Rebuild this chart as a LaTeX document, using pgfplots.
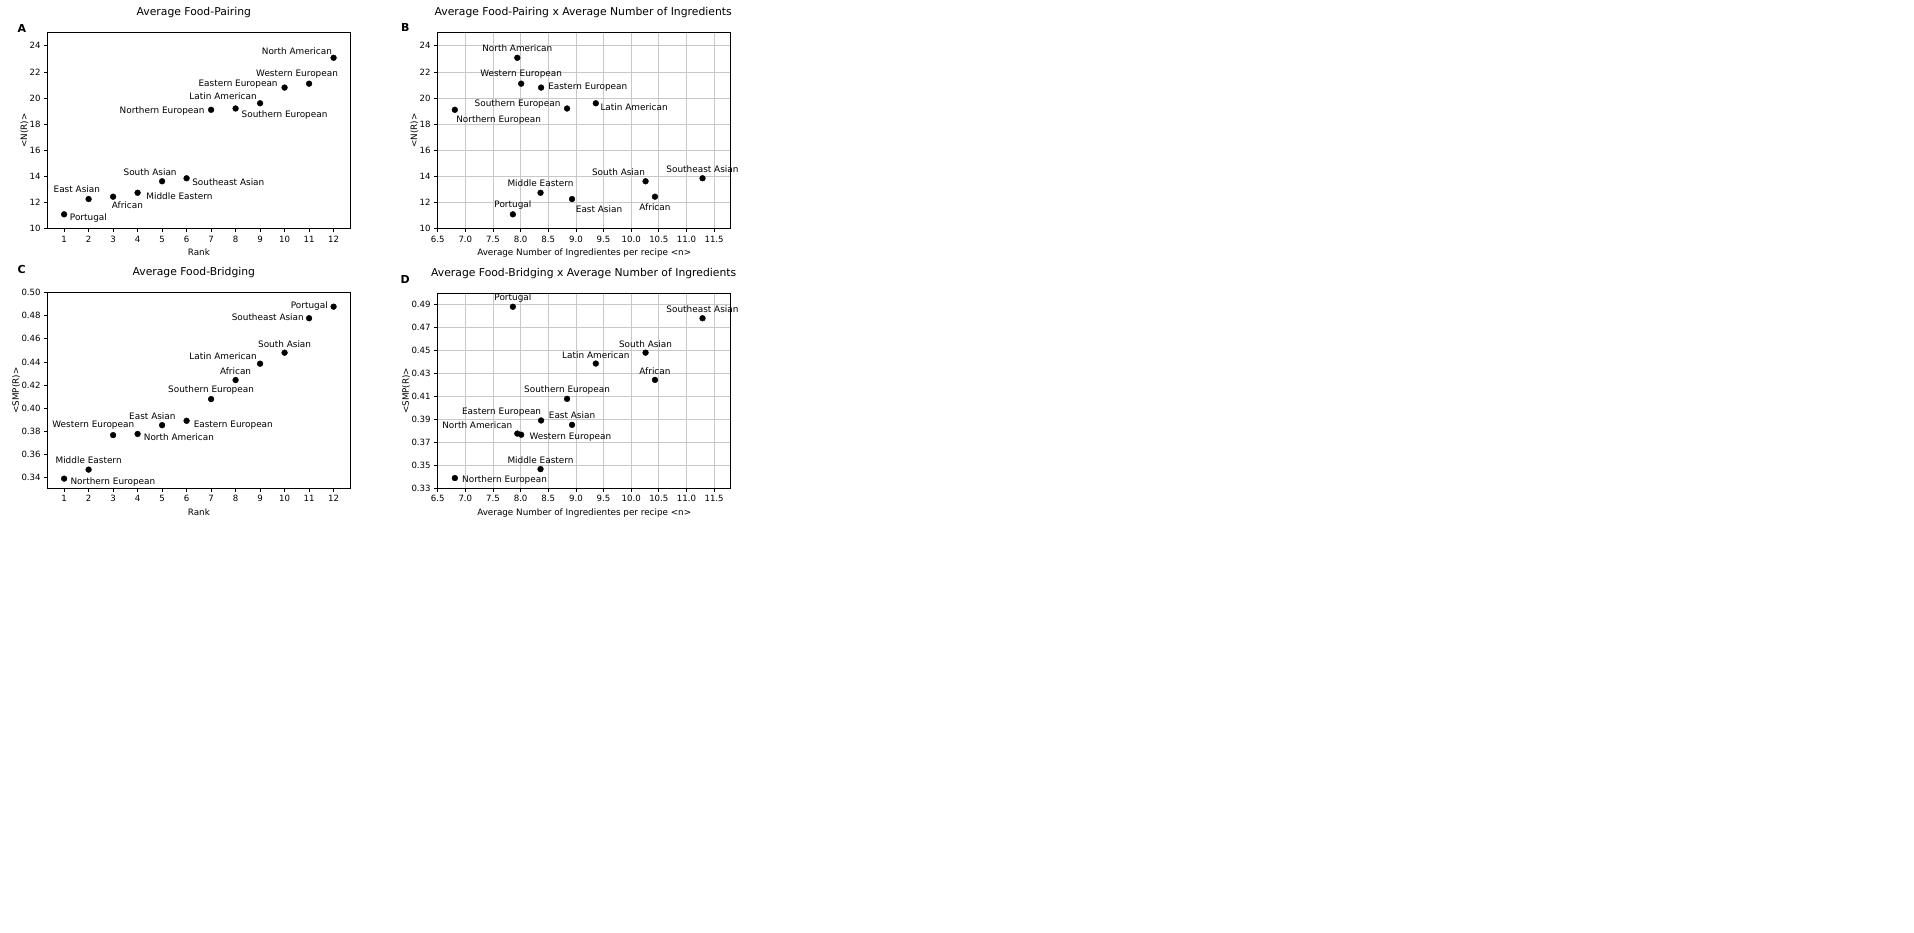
\documentclass[border=0pt]{standalone}
\usepackage{fontspec}
\setmainfont{DejaVu Sans}
\usepackage{pgfplots}
\usepackage{pgfplotstable}
\pgfplotsset{compat=1.18}
\definecolor{gridc}{RGB}{200,200,200}

\pgfplotstableread[col sep=comma]{
x,y,dx,dy,label
1,11.10,24.3,-3.7,Portugal
2,12.27,-11.8,9.7,East Asian
3,12.45,14.3,-8.7,African
4,12.75,41.8,-3.7,Middle Eastern
5,13.63,-12,9.3,South Asian
6,13.86,41.7,-3.7,Southeast Asian
7,19.10,-49,-1,Northern European
8,19.20,49,-6.7,Southern European
9,19.60,-37,6.7,Latin American
10,20.80,-46.5,3.3,Eastern European
11,21.10,-12,9.7,Western European
12,23.08,-36.7,6.7,North American
}\tabA

\pgfplotstableread[col sep=comma]{
x,y,dx,dy,label
7.86,11.10,0,9.7,Portugal
8.93,12.27,27,-10.3,East Asian
10.43,12.45,0,-10.3,African
8.36,12.75,0,9.7,Middle Eastern
10.26,13.63,-27,9.3,South Asian
11.29,13.86,0,9.3,Southeast Asian
6.81,19.10,43.8,-10.3,Northern European
8.84,19.20,-49.5,4,Southern European
9.36,19.60,38.3,-4,Latin American
8.37,20.80,46.7,0,Eastern European
8.01,21.10,0,9.7,Western European
7.94,23.08,0,9.3,North American
}\tabB

\pgfplotstableread[col sep=comma]{
x,y,dx,dy,label
1,0.3389,48.8,-3.7,Northern European
2,0.3467,0,9.7,Middle Eastern
3,0.3766,-19.8,10,Western European
4,0.3776,41.3,-3.7,North American
5,0.3852,-9.7,9,East Asian
6,0.3890,46.7,-4.3,Eastern European
7,0.4078,0,9,Southern European
8,0.4243,0,9,African
9,0.4385,-37,7,Latin American
10,0.4480,0,8.3,South Asian
11,0.4779,-41.3,1,Southeast Asian
12,0.4879,-24.3,1,Portugal
}\tabC

\pgfplotstableread[col sep=comma]{
x,y,dx,dy,label
6.81,0.3389,49.7,-2.3,Northern European
8.36,0.3467,0,8.7,Middle Eastern
8.01,0.3766,49.2,-2.3,Western European
7.94,0.3776,-40,8.7,North American
8.93,0.3852,0,9.3,East Asian
8.37,0.3890,-39.5,8.3,Eastern European
8.84,0.4078,0,9,Southern European
10.43,0.4243,0,8.7,African
9.36,0.4385,0,8,Latin American
10.26,0.4480,0,8.3,South Asian
11.29,0.4779,0,9,Southeast Asian
7.86,0.4879,0,9,Portugal
}\tabD

\pgfplotsset{
  myaxis/.style={
    scale only axis,
    clip=false,
    axis line style={line width=0.8pt, black},
    tick align=outside,
    tick pos=left,
    major tick length=3.5pt,
    every tick/.style={black, line width=0.8pt},
    tick label style={font=\fontsize{8.6}{10}\selectfont},
    label style={font=\fontsize{8.8}{10}\selectfont},
    ylabel shift=-5.5pt,
    title style={font=\fontsize{10.8}{12}\selectfont, at={(0.5,1)}, anchor=center},
    /pgf/number format/assume math mode=true,
    scaled ticks=false,
  },
  mygrid/.style={grid=major, grid style={color=gridc, line width=0.7pt}},
  pts/.style={only marks, mark=*, mark size=2.9pt, black,
    visualization depends on={\thisrow{dx}\as\dx},
    visualization depends on={\thisrow{dy}\as\dy},
    nodes near coords, point meta=explicit symbolic,
    nodes near coords style={anchor=center, xshift=\dx pt, yshift=\dy pt,
      font=\fontsize{8.9}{10}\selectfont, text=black, inner sep=0pt}},
}

\begin{document}
\begin{tikzpicture}
\useasboundingbox (0,0) rectangle (1914pt,-932pt);
\fill[white] (0,0) rectangle (1914pt,-932pt);

% Panel A
\begin{axis}[myaxis, anchor=north west, at={(47.7pt,-32.7pt)},
  width=302.3pt, height=196pt,
  xmin=0.33, xmax=12.67, ymin=10, ymax=25,
  xtick={1,2,3,4,5,6,7,8,9,10,11,12},
  ytick={10,12,14,16,18,20,22,24},
  title={Average Food-Pairing}, title style={yshift=14pt, xshift=-5pt},
  xlabel={Rank}, ylabel={<N(R)>}]
\addplot[pts] table[x=x, y=y, meta=label]{\tabA};
\end{axis}

% Panel B
\begin{axis}[myaxis, mygrid, anchor=north west, at={(437.7pt,-32.7pt)},
  width=293pt, height=196pt,
  xmin=6.5, xmax=11.8, ymin=10, ymax=25,
  xtick={6.5,7.0,7.5,8.0,8.5,9.0,9.5,10.0,10.5,11.0,11.5},
  xticklabel style={/pgf/number format/.cd, fixed, fixed zerofill, precision=1},
  ytick={10,12,14,16,18,20,22,24},
  title={Average Food-Pairing x Average Number of Ingredients}, title style={yshift=14pt, xshift=-1pt},
  xlabel={Average Number of Ingredientes per recipe <n>}, ylabel={<N(R)>}]
\addplot[pts] table[x=x, y=y, meta=label]{\tabB};
\end{axis}

% Panel C
\begin{axis}[myaxis, anchor=north west, at={(47.7pt,-292.7pt)},
  width=302.3pt, height=195.6pt,
  xmin=0.33, xmax=12.67, ymin=0.3305, ymax=0.50,
  xtick={1,2,3,4,5,6,7,8,9,10,11,12},
  ytick={0.34,0.36,0.38,0.40,0.42,0.44,0.46,0.48,0.50},
  yticklabel style={/pgf/number format/.cd, fixed, fixed zerofill, precision=2},
  title={Average Food-Bridging}, title style={yshift=14.5pt, xshift=-5pt},
  xlabel={Rank}, ylabel={<SMP(R)>}]
\addplot[pts] table[x=x, y=y, meta=label]{\tabC};
\end{axis}

% Panel D
\begin{axis}[myaxis, mygrid, anchor=north west, at={(437.7pt,-293.3pt)},
  width=293pt, height=195pt,
  xmin=6.5, xmax=11.8, ymin=0.33, ymax=0.4996,
  xtick={6.5,7.0,7.5,8.0,8.5,9.0,9.5,10.0,10.5,11.0,11.5},
  xticklabel style={/pgf/number format/.cd, fixed, fixed zerofill, precision=1},
  ytick={0.33,0.35,0.37,0.39,0.41,0.43,0.45,0.47,0.49},
  yticklabel style={/pgf/number format/.cd, fixed, fixed zerofill, precision=2},
  title={Average Food-Bridging x Average Number of Ingredients}, title style={yshift=14pt, xshift=-0.5pt},
  xlabel={Average Number of Ingredientes per recipe <n>}, ylabel={<SMP(R)>}]
\addplot[pts] table[x=x, y=y, meta=label]{\tabD};
\end{axis}

\node[font=\bfseries\fontsize{11}{12}\selectfont] at (22pt,-28.3pt) {A};
\node[font=\bfseries\fontsize{11}{12}\selectfont] at (405.3pt,-27.8pt) {B};
\node[font=\bfseries\fontsize{11}{12}\selectfont] at (21.7pt,-269.8pt) {C};
\node[font=\bfseries\fontsize{11}{12}\selectfont] at (405.3pt,-279.5pt) {D};
\end{tikzpicture}
\end{document}
